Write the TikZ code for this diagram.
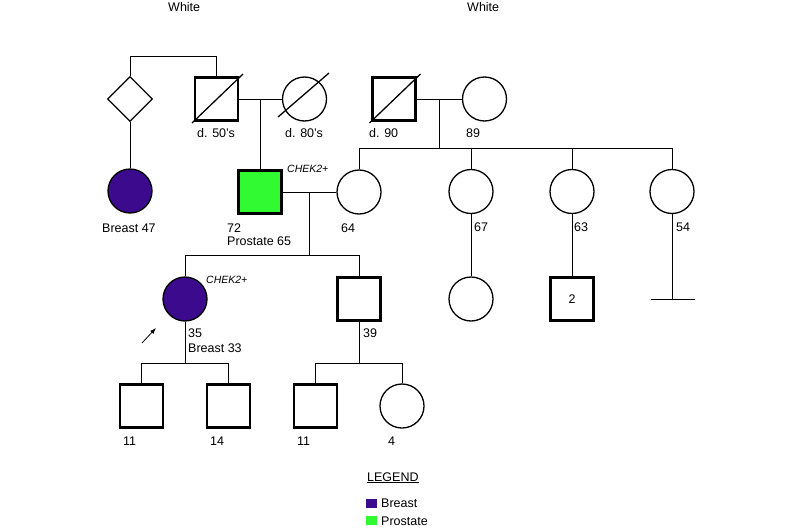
\documentclass[tikz,border=0pt]{standalone}
\usepackage{fontspec}
\setmainfont{Liberation Sans}
\usetikzlibrary{shapes.geometric,arrows.meta,calc}
\definecolor{breastc}{RGB}{60,10,140}
\definecolor{prostc}{RGB}{50,250,50}
\begin{document}
\begin{tikzpicture}[x=1pt,y=-1pt,
  male/.style={draw, rectangle, line width=2.2pt, minimum size=43pt, inner sep=0pt, fill=white},
  female/.style={draw, circle, line width=1.3pt, minimum size=44pt, inner sep=0pt, fill=white},
  unk/.style={draw, diamond, aspect=1, line width=1.3pt, minimum width=45pt, minimum height=45pt, inner sep=0pt},
  link/.style={line width=0.9pt},
  slash/.style={line width=1.3pt},
  lbl/.style={anchor=base west, inner sep=0pt, font=\fontsize{12.5}{14}\selectfont},
  gene/.style={anchor=base west, inner sep=0pt, font=\fontsize{10.5}{12}\selectfont\itshape},
  key/.style={draw=none, minimum width=11pt, minimum height=9pt, inner sep=0pt}
]
\useasboundingbox (0,0) rectangle (800,530);
% generation I
\node[lbl] (w1) at (168,12) {White};
\node[lbl] (w2) at (467,12) {White};
\node[unk] (d) at (130,99) {};
\node[male] (f1) at (216.5,99) {};
\node[female] (m1) at (304.5,99) {};
\node[male] (f2) at (394,99) {};
\node[female] (m2) at (484.5,99) {};
\draw[slash] ($(f1.center)+(-24.5,24)$) -- ($(f1.center)+(26.5,-25)$);
\draw[slash] ($(m1.center)+(-26.5,18)$) -- ($(m1.center)+(24.5,-26)$);
\draw[slash] ($(f2.center)+(-24.5,24)$) -- ($(f2.center)+(26.5,-25)$);
\node[lbl] (l50) at (197,137) {d. 50's};
\node[lbl] (l80) at (285,137) {d. 80's};
\node[lbl] (l90) at (369,137) {d. 90};
\node[lbl] (l89) at (466,137) {89};
% generation II
\node[female, fill=breastc] (aunt) at (130,191) {};
\node[male, fill=prostc] (pr) at (260,192) {};
\node[female] (w64) at (359,192) {};
\node[female] (a67) at (471,191.5) {};
\node[female] (a63) at (572,191.5) {};
\node[female] (a54) at (672,191.5) {};
\node[lbl] (lb47) at (102,232) {Breast 47};
\node[lbl] (l72) at (227,232) {72};
\node[lbl] (lp65) at (227,245) {Prostate 65};
\node[gene] (g1) at (287,172) {CHEK2+};
\node[lbl] (l64) at (341,232) {64};
\node[lbl] (l67) at (474,231) {67};
\node[lbl] (l63) at (574,231) {63};
\node[lbl] (l54) at (676,231) {54};
% generation III
\node[female, fill=breastc] (pb) at (185,299) {};
\node[male] (s39) at (359,299) {};
\node[female] (c67) at (471,299) {};
\node[male] (c63) at (572,299) {\fontsize{12.5}{14}\selectfont 2};
\coordinate (bar) at (672,299);
\node[gene] (g2) at (206,283) {CHEK2+};
\node[lbl] (l35) at (188,337) {35};
\node[lbl] (lb33) at (188,352) {Breast 33};
\node[lbl] (l39) at (363,337) {39};
\coordinate (arT) at (142,343);
\coordinate (arH) at (156,328);
\draw[line width=0.8pt, -{Latex[length=6pt,width=4.5pt]}] (arT) -- (arH);
% generation IV
\node[male] (k1) at (141.5,406) {};
\node[male] (k2) at (228.5,406) {};
\node[male] (k3) at (315.5,406) {};
\node[female] (k4) at (402,406) {};
\node[lbl] (lk1) at (123,445) {11};
\node[lbl] (lk2) at (210,445) {14};
\node[lbl] (lk3) at (297,445) {11};
\node[lbl] (lk4) at (388,445) {4};
% connectors
\draw[link] (d.north) -- (d.north |- 0,56) -| (f1.north);
\draw[link] (f1.east) -- (m1.west);
\coordinate (c1) at (pr.north |- f1.east);
\draw[link] (c1) -- (pr.north);
\draw[link] (d.south) -- (aunt.north);
\draw[link] (f2.east) -- (m2.west);
\coordinate (c2) at (439,99);
\coordinate (s2) at (439,148);
\draw[link] (c2) -- (s2);
\draw[link] (w64.north) -- (w64.north |- s2) -- (a54.north |- s2) -- (a54.north);
\draw[link] (a67.north |- s2) -- (a67.north);
\draw[link] (a63.north |- s2) -- (a63.north);
\draw[link] (pr.east) -- (w64.west);
\coordinate (c3) at (309,192);
\coordinate (s3) at (309,255);
\draw[link] (c3) -- (s3);
\draw[link] (pb.north) -- (pb.north |- s3) -- (s39.north |- s3) -- (s39.north);
\draw[link] (a67.south) -- (c67.north);
\draw[link] (a63.south) -- (c63.north);
\draw[link] (a54.south) -- (bar);
\draw[link] ($(bar)+(-21,0)$) -- ($(bar)+(23,0)$);
\coordinate (s4) at (185,363);
\draw[link] (pb.south) -- (s4);
\draw[link] (k1.north) -- (k1.north |- s4) -- (k2.north |- s4) -- (k2.north);
\coordinate (s5) at (359,363);
\draw[link] (s39.south) -- (s5);
\draw[link] (k3.north) -- (k3.north |- s5) -- (k4.north |- s5) -- (k4.north);
% legend
\node[lbl] (lg) at (367,481) {\underline{LEGEND}};
\node[key, fill=breastc, anchor=north west] (kb) at (366,499) {};
\node[key, fill=prostc, anchor=north west] (kp) at (366,516) {};
\node[lbl] (lkb) at (381,507) {Breast};
\node[lbl] (lkp) at (381,525) {Prostate};
\end{tikzpicture}
\end{document}
